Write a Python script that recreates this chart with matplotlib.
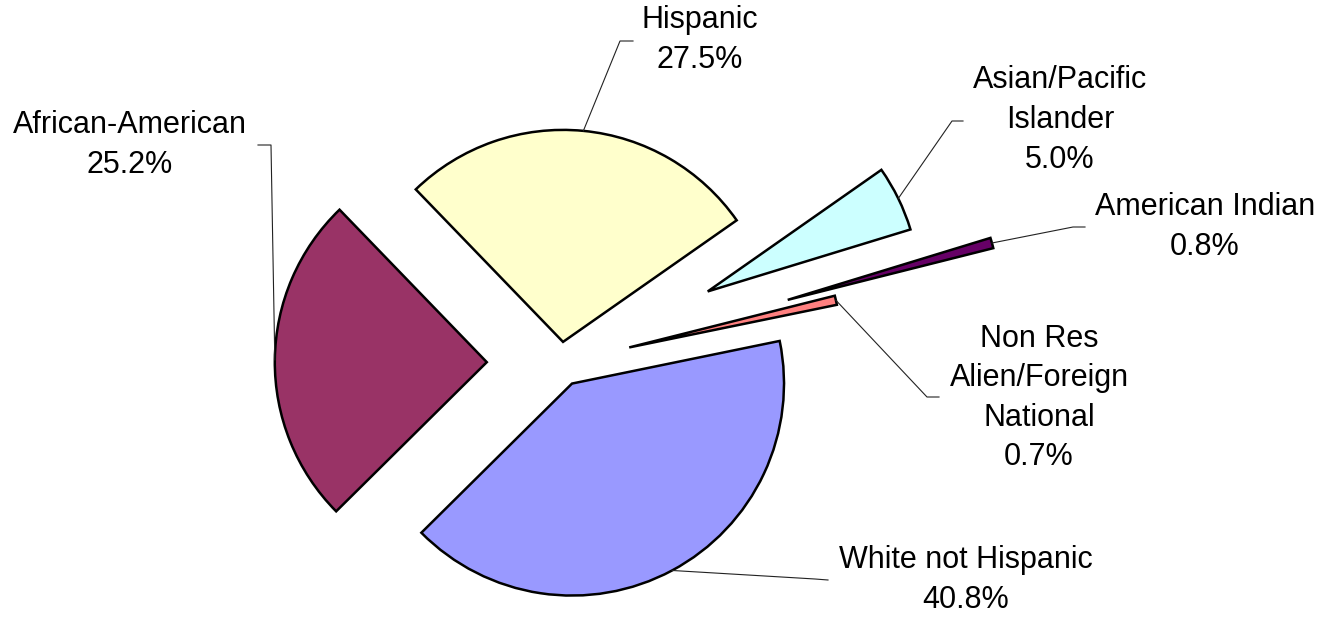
import numpy as np
import matplotlib.pyplot as plt

plt.rcParams['font.family'] = ['Liberation Sans', 'DejaVu Sans']

# data (clockwise from the top-left)
groups = ['Hispanic', 'Asian/Pacific\nIslander', 'American Indian',
          'Non Res\nAlien/Foreign\nNational', 'White not Hispanic', 'African-American']
shares = [27.5, 5.0, 0.8, 0.7, 40.8, 25.2]
colors = ['#FFFFCC', '#CCFFFF', '#660066', '#FF8080', '#9999FF', '#993366']
explode = [0.10, 0.77, 1.11, 0.33, 0.11, 0.35]  # fraction of the radius

W, H = 1329, 618
R = 212

def Y(y):
    # picture rows -> data y
    return H - y

# label layout: text centre, knee of the leader, end of the leader (picture pixels)
text_pos = [(700, 40), (1060, 120), (1205, 227), (1039, 398), (966, 580), (130, 145)]
knees = [(620, 41), (952, 121), (1073, 227), (927, 397), (815, 579), (271, 145)]
ends = [(633, 41), (963, 121), (1085, 227), (939, 397), (828, 580), (258, 145)]

fig = plt.figure(figsize=(W / 100, H / 100), dpi=100)
ax = fig.add_axes([0, 0, 1, 1])

# pie's explode is in data units, so scale by the radius
wedges, _ = ax.pie(shares, explode=[e * R for e in explode], colors=colors,
                   startangle=134, counterclock=False, radius=R,
                   center=(561, Y(363)),
                   wedgeprops=dict(edgecolor='black', linewidth=1.8))

for w, g, v, tp, kn, en in zip(wedges, groups, shares, text_pos, knees, ends):
    mid = np.deg2rad((w.theta1 + w.theta2) / 2)
    sx = w.center[0] + w.r * np.cos(mid)
    sy = w.center[1] + w.r * np.sin(mid)
    ax.plot([sx, kn[0], en[0]], [sy, Y(kn[1]), Y(en[1])], color='#222222', lw=0.8)
    ax.text(tp[0], Y(tp[1]), f'{g}\n{v:.1f}%', ha='center', va='center',
            multialignment='center', fontsize=22, linespacing=1.42)

ax.set_xlim(0, W)
ax.set_ylim(0, H)
ax.set_aspect('equal')
ax.axis('off')

fig.savefig('out.png', dpi=100, facecolor='white')
